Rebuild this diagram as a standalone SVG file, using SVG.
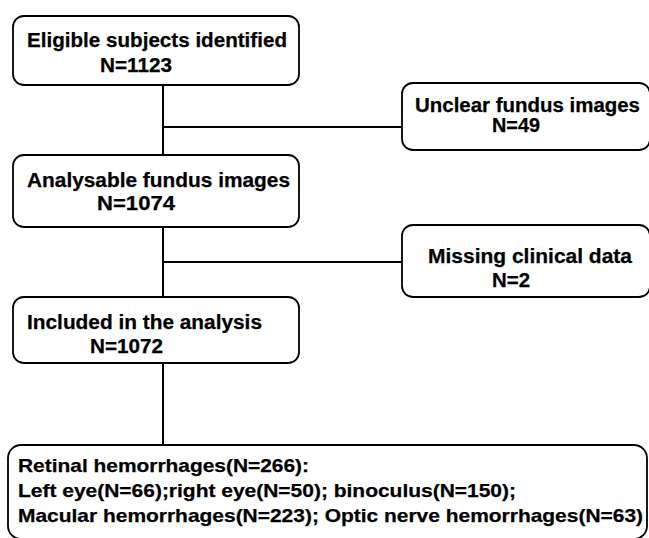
<svg xmlns="http://www.w3.org/2000/svg" width="649" height="538" viewBox="0 0 649 538">
<style>
.box{fill:#fff;stroke:#000;stroke-width:1.8}
.t{font-family:"Liberation Sans",Arial,sans-serif;font-weight:bold;font-size:19.5px;fill:#000;stroke:#000;stroke-width:0.25}
.b{font-size:19px}
.c{stroke:#000;stroke-width:2;fill:none}
</style>
<rect width="649" height="538" fill="#fff"/>
<g id="connectors">
<path class="c" d="M163 85V155M163 127H402M163 227V297M163 262H402M163 363V445"/>
</g>
<g id="n1">
<rect class="box" x="13" y="16" width="286" height="69" rx="11"/>
<text class="t" x="27" y="47" textLength="260" lengthAdjust="spacingAndGlyphs">Eligible subjects identified</text>
<text class="t" x="100" y="72" textLength="72" lengthAdjust="spacingAndGlyphs">N=1123</text>
</g>
<g id="n2">
<rect class="box" x="402" y="83" width="248" height="67" rx="11"/>
<text class="t" x="415" y="112" textLength="225" lengthAdjust="spacingAndGlyphs">Unclear fundus images</text>
<text class="t" x="492" y="132" textLength="48" lengthAdjust="spacingAndGlyphs">N=49</text>
</g>
<g id="n3">
<rect class="box" x="13" y="155" width="286" height="72" rx="11"/>
<text class="t" x="27" y="187" textLength="263" lengthAdjust="spacingAndGlyphs">Analysable fundus images</text>
<text class="t" x="97" y="210" textLength="78" lengthAdjust="spacingAndGlyphs">N=1074</text>
</g>
<g id="n4">
<rect class="box" x="402" y="225" width="248" height="72" rx="11"/>
<text class="t" x="428" y="263" textLength="204" lengthAdjust="spacingAndGlyphs">Missing clinical data</text>
<text class="t" x="492" y="287" textLength="38" lengthAdjust="spacingAndGlyphs">N=2</text>
</g>
<g id="n5">
<rect class="box" x="13" y="297" width="286" height="66" rx="11"/>
<text class="t" x="27" y="329" textLength="235" lengthAdjust="spacingAndGlyphs">Included in the analysis</text>
<text class="t" x="90" y="353" textLength="73" lengthAdjust="spacingAndGlyphs">N=1072</text>
</g>
<g id="n6">
<rect class="box" x="8" y="445" width="639" height="94" rx="13"/>
<text class="t b" x="18" y="472" textLength="291" lengthAdjust="spacingAndGlyphs">Retinal hemorrhages(N=266):</text>
<text class="t b" x="18" y="497" textLength="498" lengthAdjust="spacingAndGlyphs">Left eye(N=66);right eye(N=50); binoculus(N=150);</text>
<text class="t b" x="18" y="522" textLength="625" lengthAdjust="spacingAndGlyphs">Macular hemorrhages(N=223); Optic nerve hemorrhages(N=63)</text>
</g>
</svg>
